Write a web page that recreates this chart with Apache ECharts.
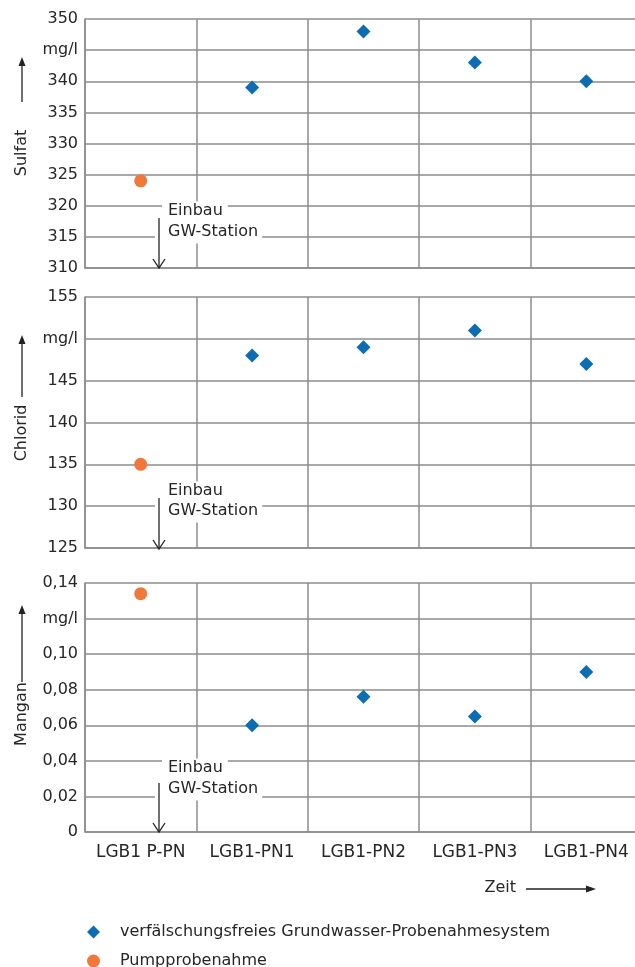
<!DOCTYPE html>
<html>
<head>
<meta charset="utf-8">
<script src="https://cdn.jsdelivr.net/npm/echarts@6/dist/echarts.min.js"></script>
<style>html,body{margin:0;padding:0;background:#fff}#c{width:635px;height:967px}</style>
</head>
<body>
<div id="c"></div>
<script>
// ---- data ----
const categories = ['LGB1 P-PN', 'LGB1-PN1', 'LGB1-PN2', 'LGB1-PN3', 'LGB1-PN4'];
const seriesNames = ['verfälschungsfreies Grundwasser-Probenahmesystem', 'Pumpprobenahme'];
const sulfatPump = [324, null, null, null, null];
const sulfatSystem = [null, 339, 348, 343, 340];
const chloridPump = [135, null, null, null, null];
const chloridSystem = [null, 148, 149, 151, 147];
const manganPump = [0.134, null, null, null, null];
const manganSystem = [null, 0.06, 0.076, 0.065, 0.09];
const panelNames = ['Sulfat', 'Chlorid', 'Mangan'];
const unitLabel = 'mg/l';
const annotationLines = ['Einbau', 'GW-Station'];
const xName = 'Zeit';

// ---- style ----
const FONT = 'DejaVu Sans';
const TXT = '#262626';
const GRID = '#8c8c8c';
const BLUE = '#0c6db3';
const ORANGE = '#f0783a';

const grids = [
  {left: 85, right: -7, top: 19, height: 249},
  {left: 85, right: -7, top: 297, height: 251},
  {left: 85, right: -7, top: 583, height: 249}
].map(g => Object.assign({outerBoundsMode: 'none', containLabel: false}, g));

const yDefs = [
  {min: 310, max: 350, interval: 5, unitAt: 345, fmt: v => String(v)},
  {min: 125, max: 155, interval: 5, unitAt: 150, fmt: v => String(v)},
  {min: 0, max: 0.14, interval: 0.02, unitAt: 0.12, fmt: v => v === 0 ? '0' : v.toFixed(2).replace('.', ',')}
];

const xAxis = grids.map((g, i) => ({
  type: 'category', gridIndex: i, data: categories, boundaryGap: true,
  axisTick: {show: false},
  axisLine: {show: true, lineStyle: {color: GRID, width: 1.5}},
  splitLine: {show: true, interval: 0, lineStyle: {color: GRID, width: 1.5}},
  axisLabel: {show: i === 2, interval: 0, fontFamily: FONT, fontSize: 17, color: TXT, margin: 12}
}));

const yAxis = yDefs.map((d, i) => ({
  type: 'value', gridIndex: i, min: d.min, max: d.max, interval: d.interval,
  axisTick: {show: false},
  axisLine: {show: true, lineStyle: {color: GRID, width: 1.5}},
  splitLine: {show: true, lineStyle: {color: GRID, width: 1.5}},
  axisLabel: {
    fontFamily: FONT, fontSize: 16, color: TXT, margin: 7,
    formatter: v => Math.abs(v - d.unitAt) < 1e-9 ? unitLabel : d.fmt(v)
  }
}));

const pumpData = [sulfatPump, chloridPump, manganPump];
const sysData = [sulfatSystem, chloridSystem, manganSystem];
const series = [];
for (let i = 0; i < 3; i++) {
  series.push({
    name: seriesNames[0], type: 'scatter', xAxisIndex: i, yAxisIndex: i,
    symbol: 'diamond', symbolSize: 14, itemStyle: {color: BLUE, opacity: 1}, z: 5,
    data: sysData[i]
  });
  series.push({
    name: seriesNames[1], type: 'scatter', xAxisIndex: i, yAxisIndex: i,
    symbol: 'circle', symbolSize: 13, itemStyle: {color: ORANGE, opacity: 1}, z: 5,
    data: pumpData[i]
  });
}

// ---- annotation graphics ----
function vText(txt, x, cy) {
  return {type: 'text', x: x, y: cy, rotation: Math.PI / 2,
    style: {text: txt, font: '16px "' + FONT + '"', fill: TXT, align: 'center', verticalAlign: 'middle'}};
}
function upArrow(x, yBottom, yTip) {
  return [
    {type: 'line', shape: {x1: x, y1: yBottom, x2: x, y2: yTip + 7}, style: {stroke: '#222', lineWidth: 1.3}},
    {type: 'polygon', shape: {points: [[x, yTip], [x - 3.5, yTip + 9], [x + 3.5, yTip + 9]]}, style: {fill: '#222'}}
  ];
}
const axisNamePos = [
  {cy: 153, aBottom: 102, aTip: 57},
  {cy: 433, aBottom: 397, aTip: 335},
  {cy: 714, aBottom: 682, aTip: 605}
];
const annoPos = [
  {e: 211, g: 232, top: 218, bottom: 268},
  {e: 491, g: 511, top: 498, bottom: 549},
  {e: 768, g: 789, top: 783, bottom: 832}
];
const graphic = [];
axisNamePos.forEach((p, i) => {
  graphic.push(vText(panelNames[i], 22, p.cy));
  graphic.push(...upArrow(22, p.aBottom, p.aTip));
});
annoPos.forEach(p => {
  graphic.push({type: 'text', x: 162, y: p.e, z: 10,
    style: {text: annotationLines[0], font: '16px "' + FONT + '"', fill: TXT, verticalAlign: 'middle',
      backgroundColor: '#fff', padding: [2, 5, 1, 6]}});
  graphic.push({type: 'text', x: 155, y: p.g, z: 10,
    style: {text: annotationLines[1], font: '16px "' + FONT + '"', fill: TXT, verticalAlign: 'middle',
      backgroundColor: '#fff', padding: [1, 4, 6, 13]}});
  graphic.push({type: 'line', z: 11, shape: {x1: 159, y1: p.top, x2: 159, y2: p.bottom}, style: {stroke: '#222', lineWidth: 1.3}});
  graphic.push({type: 'polyline', z: 11, shape: {points: [[153, p.bottom - 9], [159, p.bottom], [165, p.bottom - 9]]}, style: {stroke: '#222', lineWidth: 1.3, fill: null}});
});
// Zeit label with arrow
graphic.push({type: 'text', x: 516, y: 888, style: {text: xName, font: '16px "' + FONT + '"', fill: TXT, align: 'right', verticalAlign: 'middle'}});
graphic.push({type: 'line', shape: {x1: 526, y1: 889, x2: 588, y2: 889}, style: {stroke: '#222', lineWidth: 1.3}});
graphic.push({type: 'polygon', shape: {points: [[596, 889], [586, 885.5], [586, 892.5]]}, style: {fill: '#222'}});

const chart = echarts.init(document.getElementById('c'), null, {renderer: 'canvas'});
chart.setOption({
  animation: false,
  backgroundColor: '#fff',
  grid: grids,
  xAxis: xAxis,
  yAxis: yAxis,
  series: series,
  legend: {
    data: [
      {name: seriesNames[0], icon: 'diamond'},
      {name: seriesNames[1], icon: 'circle'}
    ],
    orient: 'vertical', left: 87, top: 924, height: 60,
    itemWidth: 13, itemHeight: 13, itemGap: 13, padding: 0,
    textStyle: {fontFamily: FONT, fontSize: 16, lineHeight: 14, color: TXT, padding: [0, 0, 0, 15]}
  },
  graphic: graphic
});
</script>
</body>
</html>
